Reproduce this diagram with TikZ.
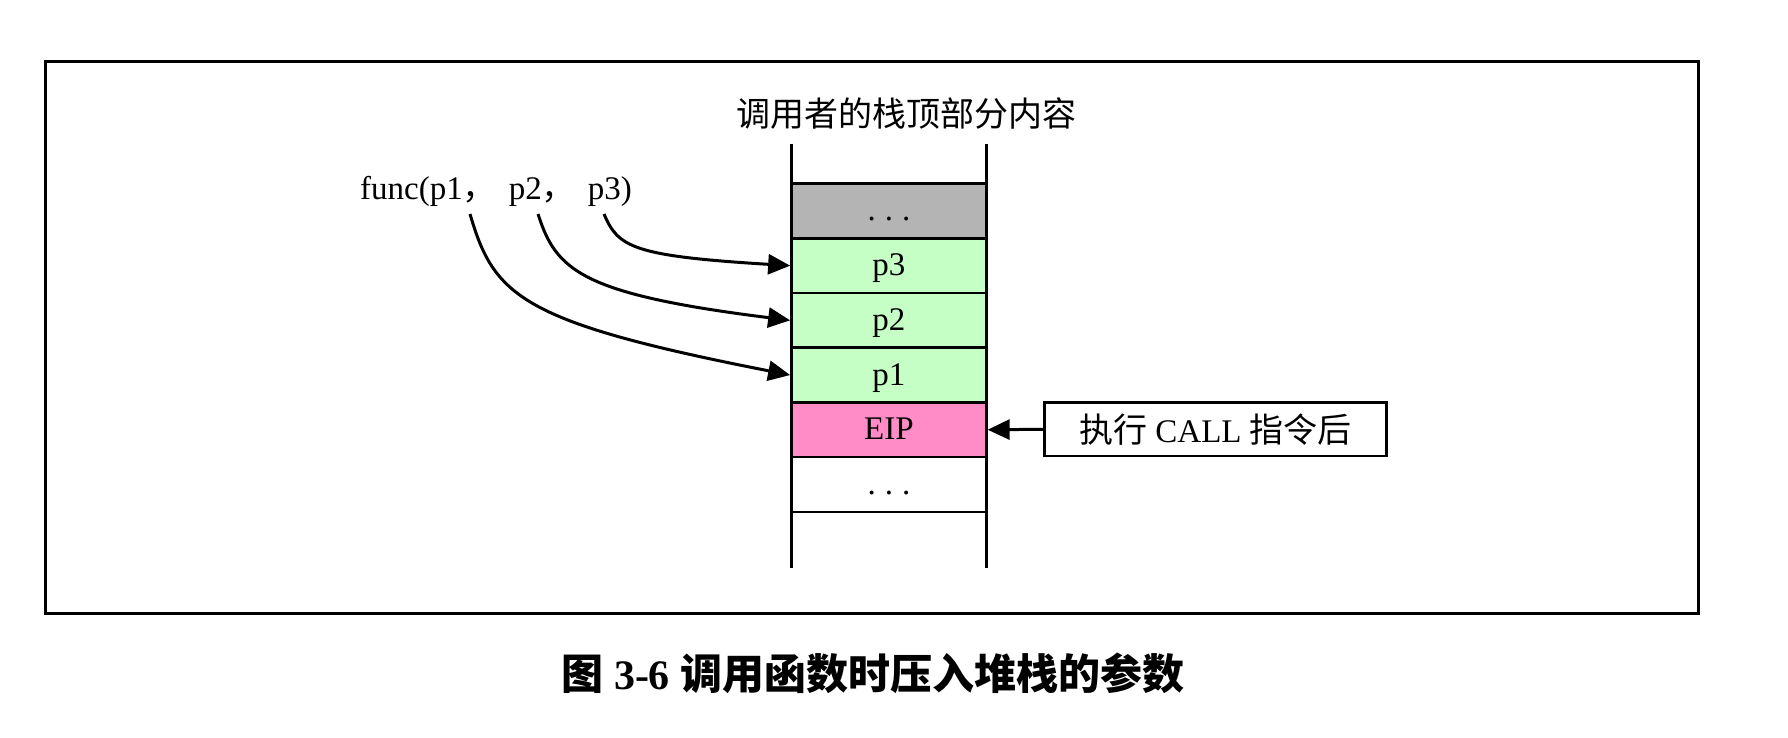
\documentclass[tikz,border=0pt]{standalone}
\usepackage{fontspec}
\setmainfont{Liberation Serif}
\newfontfamily\cjk{Noto Sans CJK SC}
\usetikzlibrary{arrows.meta}
\definecolor{rowgray}{RGB}{180,180,180}
\definecolor{rowgreen}{RGB}{198,255,198}
\definecolor{rowpink}{RGB}{255,140,198}
\newcommand{\dotsrow}{.\hspace{9pt}.\hspace{9pt}.}
\tikzset{
  row/.style={draw, line width=2.5pt, minimum width=195pt, minimum height=54.7pt,
    inner sep=0pt, text height=24pt, text depth=4pt, font=\fontsize{33}{38}\selectfont},
  lbl/.style={inner sep=0pt, font=\fontsize{33}{38}\selectfont},
  conn/.style={line width=3pt, -{Triangle[length=22pt,width=20pt]}},
}
\begin{document}
\begin{tikzpicture}[x=1pt,y=-1pt]
\useasboundingbox (0,0) rectangle (1788,738);
% outer frame
\node[draw, line width=3.2pt, minimum width=1653pt, minimum height=552pt, inner sep=0pt] (frame) at (872.25,337.25) {};
% stack side lines
\draw[line width=2.5pt] (791.4,143.7) -- (791.4,568);
\draw[line width=2.5pt] (986.4,143.7) -- (986.4,568);
% rows
\node[row, fill=rowgray]  (r0) at (888.9,210.95) {\dotsrow};
\node[row, fill=rowgreen] (r3) at (888.9,265.65) {p3};
\node[row, fill=rowgreen] (r2) at (888.9,320.35) {p2};
\node[row, fill=rowgreen] (r1) at (888.9,375.05) {p1};
\node[row, fill=rowpink]  (eip) at (888.9,429.75) {EIP};
\node[row, fill=white]    (r5) at (888.9,484.45) {\dotsrow};
% top label
\node[inner sep=0pt, font=\fontsize{34}{40}\selectfont\cjk] (top) at (906.5,114) {调用者的栈顶部分内容};
% func label
\node[lbl] (func) at (496,191) {func(p1{\cjk\fontsize{34}{40}\selectfont ，}\hspace{12pt}p2{\cjk\fontsize{34}{40}\selectfont ，}\hspace{12pt}p3)};
\coordinate (s1) at (470,214);
\coordinate (s2) at (538,214);
\coordinate (s3) at (604,214);
\draw[conn] (s3) .. controls (618,247) and (632,256) .. (r3.west);
\draw[conn] (s2) .. controls (556,270) and (580,294) .. (r2.west);
\draw[conn] (s1) .. controls (494,296) and (520,322) .. (r1.west);
% call box
\node[draw, line width=2.5pt, minimum width=342pt, minimum height=53.5pt, inner sep=0pt,
  font=\fontsize{33}{38}\selectfont] (call) at (1215.5,429.3) {{\cjk\fontsize{34}{40}\selectfont 执行} CALL {\cjk\fontsize{34}{40}\selectfont 指令后}};
\draw[line width=3pt, -{Triangle[length=22pt,width=20pt]}] (call.west) -- (eip.east);
% caption
\node[inner sep=0pt, font=\fontsize{42}{48}\selectfont\bfseries] (cap) at (873,673) {{\cjk 图} 3-6 {\cjk 调用函数时压入堆栈的参数}};
\end{tikzpicture}
\end{document}
